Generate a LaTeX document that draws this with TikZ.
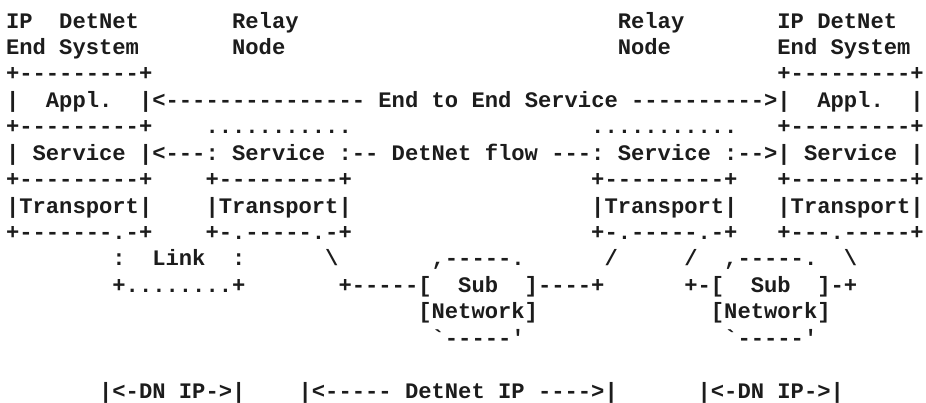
\documentclass[tikz,border=0pt]{standalone}
\usepackage{fontspec}
\setmonofont{Liberation Mono}
\usepackage{tikz}
\definecolor{AsInk}{HTML}{1C1C1C}
\tikzset{
  ascii/.style={anchor=base west,inner sep=0pt,outer sep=0pt,text=AsInk,
                font=\fontsize{22.17}{26.4}\selectfont\ttfamily\bfseries},
}

\begin{document}
\begin{tikzpicture}[x=13.3pt,y=-26.43pt]
  \useasboundingbox (0pt,0pt) rectangle (926pt,-402pt);
  \begin{scope}[shift={(6pt,-28pt)}]
    \node[ascii] (esLtitle) at (0,0) {IP~~DetNet};
    \node[ascii] (rnLtitle) at (17,0) {Relay};
    \node[ascii] (rnRtitle) at (46,0) {Relay};
    \node[ascii] (esRtitle) at (58,0) {IP DetNet};
    \node[ascii] (esLsub) at (0,1) {End System};
    \node[ascii] (rnLsub) at (17,1) {Node};
    \node[ascii] (rnRsub) at (46,1) {Node};
    \node[ascii] (esRsub) at (58,1) {End System};

    \node[ascii] (esLtop) at (0,2) {+---------+};
    \node[ascii] (esRtop) at (58,2) {+---------+};
    \node[ascii] (esLappl) at (0,3) {|~~Appl.~~|};
    \node[ascii] (e2e) at (11,3) {<--------------- End to End Service ---------->};
    \node[ascii] (esRappl) at (58,3) {|~~Appl.~~|};
    \node[ascii] (esLsep1) at (0,4) {+---------+};
    \node[ascii] (rnLtop) at (15,4) {...........};
    \node[ascii] (rnRtop) at (44,4) {...........};
    \node[ascii] (esRsep1) at (58,4) {+---------+};

    \node[ascii] (esLsvc) at (0,5) {| Service |};
    \node[ascii] (flowL) at (11,5) {<---};
    \node[ascii] (rnLsvc) at (15,5) {: Service :};
    \node[ascii] (flowM) at (26,5) {-- DetNet flow ---};
    \node[ascii] (rnRsvc) at (44,5) {: Service :};
    \node[ascii] (flowR) at (55,5) {-->};
    \node[ascii] (esRsvc) at (58,5) {| Service |};

    \node[ascii] (esLsep2) at (0,6) {+---------+};
    \node[ascii] (rnLsep) at (15,6) {+---------+};
    \node[ascii] (rnRsep) at (44,6) {+---------+};
    \node[ascii] (esRsep2) at (58,6) {+---------+};
    \node[ascii] (esLtp) at (0,7) {|Transport|};
    \node[ascii] (rnLtp) at (15,7) {|Transport|};
    \node[ascii] (rnRtp) at (44,7) {|Transport|};
    \node[ascii] (esRtp) at (58,7) {|Transport|};
    \node[ascii] (esLbot) at (0,8) {+-------.-+};
    \node[ascii] (rnLbot) at (15,8) {+-.-----.-+};
    \node[ascii] (rnRbot) at (44,8) {+-.-----.-+};
    \node[ascii] (esRbot) at (58,8) {+---.-----+};

    \node[ascii] (link) at (8,9) {:~~Link~~:};
    \node[ascii] (rnLleg) at (24,9) {\textbackslash};
    \node[ascii] (snLtop) at (32,9) {,-----.};
    \node[ascii] (rnRlegA) at (45,9) {/};
    \node[ascii] (rnRlegB) at (51,9) {/};
    \node[ascii] (snRtop) at (54,9) {,-----.};
    \node[ascii] (esRleg) at (63,9) {\textbackslash};
    \node[ascii] (linkbot) at (8,10) {+........+};
    \node[ascii] (snLsub) at (25,10) {+-----[~~Sub~~]----+};
    \node[ascii] (snRsub) at (51,10) {+-[~~Sub~~]-+};
    \node[ascii] (snLnet) at (31,11) {[Network]};
    \node[ascii] (snRnet) at (53,11) {[Network]};
    \node[ascii] (snLbot) at (32,12) {`-----'};
    \node[ascii] (snRbot) at (54,12) {`-----'};

    \node[ascii] (dnL) at (7,14) {|<-DN IP->|};
    \node[ascii] (dnM) at (22,14) {|<----- DetNet IP ---->|};
    \node[ascii] (dnR) at (52,14) {|<-DN IP->|};
  \end{scope}
\end{tikzpicture}
\end{document}
